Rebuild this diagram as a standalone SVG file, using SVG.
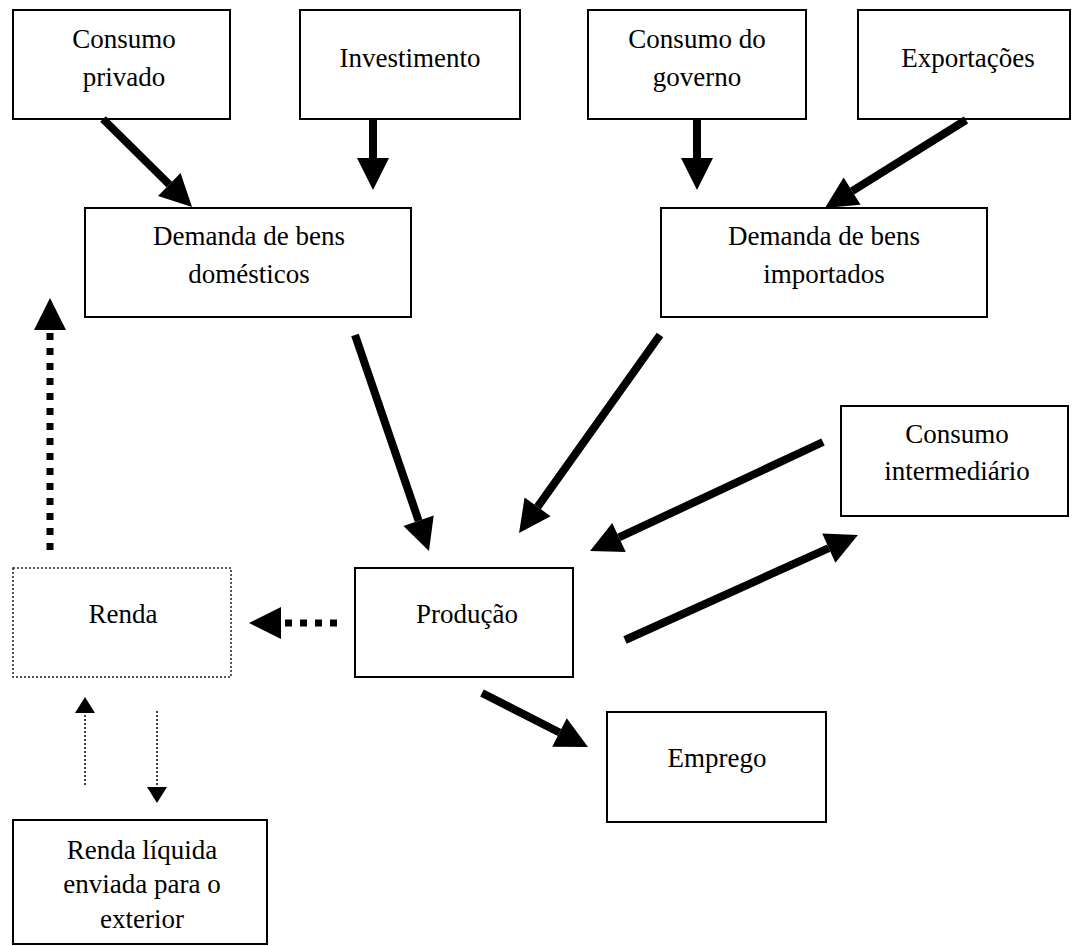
<svg xmlns="http://www.w3.org/2000/svg" width="1072" height="946" viewBox="0 0 1072 946">
<style>
.box{fill:#fff;stroke:#000;stroke-width:2}
.dotbox{fill:#fff;stroke:#222;stroke-width:1.5;stroke-dasharray:2 2}
.t{font-family:"Liberation Serif","Times New Roman",serif;font-size:27px;text-anchor:middle;fill:#000}
.thick{stroke:#000;stroke-width:8;fill:none;marker-end:url(#head)}
.dthick{stroke:#000;stroke-width:7;fill:none;stroke-dasharray:7 8;marker-end:url(#head)}
.dthin{stroke:#000;stroke-width:1.5;fill:none;stroke-dasharray:2 2;marker-end:url(#headS)}
</style>
<defs>
<marker id="head" markerUnits="userSpaceOnUse" markerWidth="32" markerHeight="32" refX="0" refY="16" orient="auto" overflow="visible">
<path d="M0,0 L32,16 L0,32 z" fill="#000"/>
</marker>
<marker id="headS" markerUnits="userSpaceOnUse" markerWidth="16" markerHeight="20" refX="0" refY="10" orient="auto" overflow="visible">
<path d="M0,0 L16,10 L0,20 z" fill="#000"/>
</marker>
</defs>
<rect width="1072" height="946" fill="#fff"/>
<g id="consumo-privado"><rect class="box" x="13" y="10" width="217" height="109"/><text class="t" x="124" y="48">Consumo</text><text class="t" x="124" y="86">privado</text></g>
<g id="investimento"><rect class="box" x="300" y="10" width="220" height="109"/><text class="t" x="410" y="67">Investimento</text></g>
<g id="consumo-governo"><rect class="box" x="588" y="10" width="218" height="109"/><text class="t" x="697" y="48">Consumo do</text><text class="t" x="697" y="86">governo</text></g>
<g id="exportacoes"><rect class="box" x="858" y="10" width="212" height="109"/><text class="t" x="968" y="67">Exportações</text></g>
<g id="demanda-domesticos"><rect class="box" x="85" y="208" width="326" height="109"/><text class="t" x="249" y="245">Demanda de bens</text><text class="t" x="249" y="283">domésticos</text></g>
<g id="demanda-importados"><rect class="box" x="661" y="208" width="326" height="109"/><text class="t" x="824" y="245">Demanda de bens</text><text class="t" x="824" y="283">importados</text></g>
<g id="consumo-intermediario"><rect class="box" x="841" y="406" width="227" height="110"/><text class="t" x="957" y="443">Consumo</text><text class="t" x="957" y="480">intermediário</text></g>
<g id="renda"><rect class="dotbox" x="13" y="568" width="218" height="109"/><text class="t" x="123" y="623">Renda</text></g>
<g id="producao"><rect class="box" x="355" y="568" width="218" height="109"/><text class="t" x="467" y="623">Produção</text></g>
<g id="emprego"><rect class="box" x="607" y="712" width="219" height="110"/><text class="t" x="717" y="767">Emprego</text></g>
<g id="renda-liquida"><rect class="box" x="13" y="820" width="254" height="124"/><text class="t" x="142" y="859">Renda líquida</text><text class="t" x="142" y="893">enviada para o</text><text class="t" x="142" y="928">exterior</text></g>
<g id="connectors">
<line class="thick" x1="103" y1="119" x2="169.3" y2="184.5"/>
<line class="thick" x1="373" y1="119" x2="373" y2="158"/>
<line class="thick" x1="697" y1="119" x2="697" y2="158"/>
<line class="thick" x1="966" y1="120" x2="852.1" y2="191.1"/>
<line class="thick" x1="355" y1="335" x2="418.6" y2="520.7"/>
<line class="thick" x1="660" y1="335" x2="537.6" y2="506.9"/>
<line class="thick" x1="823" y1="442" x2="619" y2="537.4"/>
<line class="thick" x1="625" y1="640" x2="828.8" y2="548.1"/>
<line class="thick" x1="482" y1="693" x2="559.5" y2="732.5"/>
<line class="dthick" x1="50" y1="550" x2="50" y2="330"/>
<line class="dthick" x1="337" y1="623" x2="281" y2="623"/>
<line class="dthin" x1="85" y1="785" x2="85" y2="713"/>
<line class="dthin" x1="157" y1="711" x2="157" y2="787"/>
</g>
</svg>
